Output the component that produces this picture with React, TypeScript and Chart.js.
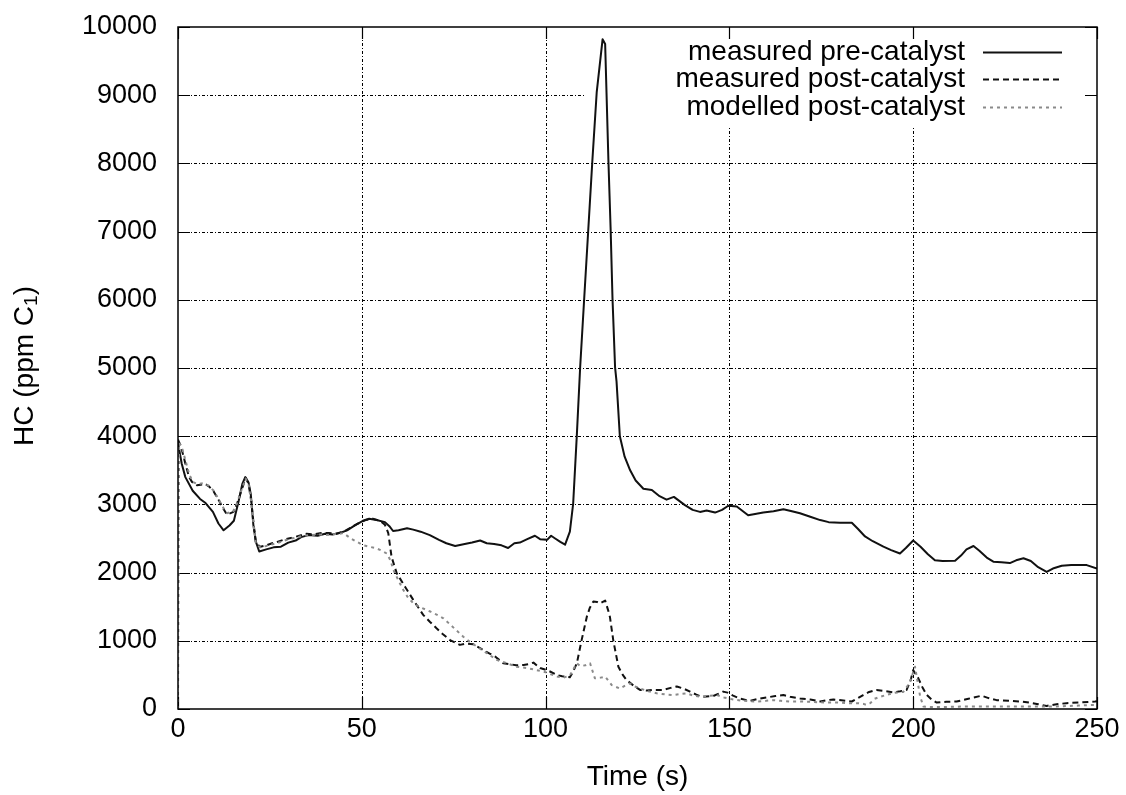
import React, { useEffect, useRef } from "react";
import { Chart, registerables } from "chart.js";

Chart.register(...registerables);

// Measured pre-catalyst HC (solid line)
const preTime = [
  0, 1, 2, 4, 6, 7.5, 9.5, 11, 12.4, 14, 15.2, 16.5, 17.5, 18.3, 19.2, 19.8, 20.5, 21.2, 22.1, 24,
  26, 28, 30, 32, 33.5, 35.5, 38, 40, 42, 44, 46, 48, 50.3, 52, 54, 56.3, 57.5, 58.5, 60, 62.3,
  64, 66, 68.5, 71, 73, 75.4, 78, 80, 82.2, 84, 86, 88, 89.8, 91.5, 93, 95, 97.1, 98.5, 100.4, 101.5,
  102.6, 104, 105.3, 106.6, 107.5, 108.5, 109.4, 110.5, 111.6, 112.7, 113.9, 115.5, 116.2, 117.1, 117.7, 118.2, 118.9, 119.3, 120.2, 121.5,
  123, 124.5, 126.6, 128.9, 131, 132.9, 134.9, 137.9, 140, 142, 143.8, 146.1, 148, 149.7, 152, 155.1, 157, 159.2, 162, 164.7,
  167, 169.2, 172, 174.7, 177, 180.1, 183.3, 185, 186.9, 189, 191.9, 194, 196.4, 198, 200, 202, 204, 205.9, 208, 211.4,
  213, 214.5, 216.4, 218, 220, 221.8, 224, 226.3, 228, 230, 232, 234, 236.3, 238, 240.4, 243, 247.2, 250,
];
const preHC = [
  3900, 3600, 3400, 3200, 3080, 3020, 2890, 2720, 2620, 2690, 2760, 3050, 3300, 3400, 3320, 3150, 2700, 2450, 2310, 2340,
  2370, 2380, 2440, 2470, 2520, 2550, 2540, 2570, 2560, 2580, 2620, 2690, 2760, 2790, 2770, 2740, 2680, 2610, 2620, 2650,
  2630, 2600, 2550, 2480, 2430, 2390, 2420, 2440, 2470, 2430, 2420, 2400, 2360, 2430, 2440, 2490, 2540, 2490, 2480, 2540,
  2500, 2450, 2410, 2600, 3010, 4020, 5010, 6020, 7020, 8020, 9040, 9820, 9750, 8020, 7020, 6020, 5010, 4800, 4000, 3700,
  3500, 3350, 3230, 3210, 3120, 3070, 3110, 2990, 2920, 2890, 2910, 2880, 2920, 2980, 2970, 2840, 2860, 2880, 2900, 2930,
  2900, 2870, 2820, 2770, 2740, 2730, 2730, 2640, 2530, 2460, 2380, 2330, 2280, 2360, 2470, 2380, 2270, 2180, 2170, 2175,
  2250, 2340, 2390, 2320, 2220, 2160, 2150, 2140, 2180, 2210, 2170, 2080, 2010, 2060, 2100, 2110, 2110, 2060,
];

// Measured post-catalyst HC (dashed line)
const postTime = [
  0, 0.8, 2, 3, 3.8, 5.2, 7.4, 8.5, 9.7, 11, 12, 13.3, 15.1, 16, 17, 18.4, 19.2, 19.9, 20.6, 21.2,
  22.4, 24, 25.6, 27, 29.2, 31, 33, 35, 37, 39, 41, 43, 45, 47, 49, 51, 53, 55, 56.3, 57.2,
  58.1, 59.5, 61.8, 64, 66.7, 68.5, 70.4, 72, 74, 76.7, 78.5, 80.3, 82.5, 84.9, 86.5, 88.5, 90, 92, 94, 95.5,
  96.7, 98.5, 100.3, 101.2, 103, 104.5, 106.6, 107.5, 108.5, 109.8, 111.2, 112, 113, 114, 114.8, 116.2, 117, 117.5, 118.4, 119.8,
  121, 122, 124, 125.7, 127.5, 129.3, 132, 134, 135.7, 137.5, 139.3, 141, 142.5, 145.6, 148.3, 149.5, 151, 153, 155.6, 158,
  160.2, 162.5, 164.7, 166.5, 169.2, 172, 174.7, 176.5, 178.3, 181, 183.3, 185, 186.4, 188, 190, 192, 194.6, 196.5, 198.2, 199.3,
  200, 201.4, 202.5, 203.7, 205, 206.4, 209, 211.8, 215, 218.6, 220.5, 222.7, 226, 229.1, 232, 234, 236.3, 239, 241.7, 245,
  249.5, 250,
];
const postHC = [
  3950, 3850, 3600, 3400, 3330, 3280, 3300, 3260, 3190, 3070, 2970, 2850, 2890, 3000, 3160, 3390, 3300, 3060, 2700, 2430,
  2380, 2400, 2430, 2450, 2490, 2510, 2540, 2570, 2560, 2580, 2580, 2570, 2600, 2660, 2720, 2770, 2790, 2760, 2700, 2580,
  2230, 1990, 1790, 1600, 1380, 1280, 1180, 1100, 1010, 940, 960, 950, 880, 810, 760, 670, 660, 640, 645, 660,
  680, 600, 570, 550, 500, 480, 465, 550, 670, 1010, 1350, 1480, 1575, 1570, 1550, 1590, 1450, 1350, 1010, 620,
  500, 425, 340, 280, 270, 280, 280, 310, 330, 300, 255, 210, 180, 190, 255, 240, 195, 150, 120, 150,
  170, 190, 205, 180, 155, 140, 110, 130, 140, 125, 110, 160, 205, 250, 280, 265, 245, 260, 280, 420,
  570, 450, 320, 205, 140, 95, 105, 110, 150, 195, 160, 130, 120, 110, 90, 70, 45, 70, 85, 95,
  110, 115,
];

// Modelled post-catalyst HC (dotted line)
const modelTime = [
  0, 0.3, 1, 2, 3, 4, 5.2, 7, 8.5, 9.7, 11, 12, 13.3, 15, 16, 17, 18.4, 19.2, 19.9, 20.6,
  21.2, 22.4, 24, 26, 28, 30, 32, 34, 36, 38, 40, 42, 44, 45, 47, 50.4, 52, 54, 55.5, 56.8,
  57.8, 58.6, 60, 61.3, 62.5, 64, 66, 68.6, 70.5, 72.2, 74, 75.8, 77.6, 79.5, 81.3, 84, 86.7, 89, 92.1, 95,
  97.6, 100, 103, 104.8, 106.6, 107.5, 108.5, 109.4, 110.8, 112.1, 113.4, 115, 116.2, 117, 118, 120.2, 121.5, 122.9, 124.3, 125.7,
  128, 130.2, 132.5, 134.7, 136.5, 138.4, 140, 142, 144, 146.5, 148.5, 151, 153, 155, 157.4, 160, 161.9, 164, 166.5, 169,
  172, 176, 179, 182.8, 185, 186.5, 187.3, 188.3, 189.5, 191, 193, 195, 197.3, 199, 200.5, 201.2, 201.9, 202.8, 205, 209.1,
  213, 218.2, 222, 227.2, 232, 236.3, 240, 245, 249, 250,
];
const modelHC = [
  0, 3900, 3850, 3650, 3450, 3330, 3300, 3310, 3270, 3200, 3080, 2980, 2870, 2900, 3010, 3170, 3380, 3290, 3050, 2680,
  2420, 2370, 2390, 2420, 2450, 2490, 2510, 2540, 2550, 2560, 2550, 2560, 2570, 2580, 2500, 2400, 2380, 2355, 2320, 2280,
  2180, 2040, 1880, 1745, 1640, 1550, 1490, 1430, 1380, 1330, 1240, 1150, 1060, 980, 915, 820, 720, 680, 620, 600,
  570, 540, 475, 460, 490, 580, 670, 630, 640, 670, 450, 460, 475, 420, 350, 300, 340, 375, 330, 300,
  260, 230, 215, 205, 220, 230, 200, 180, 190, 205, 170, 140, 125, 115, 110, 120, 130, 120, 110, 110,
  105, 95, 95, 85, 85, 75, 60, 85, 150, 180, 210, 240, 250, 380, 620, 400, 180, 35, 30, 30,
  35, 35, 35, 35, 35, 35, 40, 50, 60, 60,
];

const xTickValues = [0, 50, 100, 150, 200, 250];
const yTickValues = [0, 1000, 2000, 3000, 4000, 5000, 6000, 7000, 8000, 9000, 10000];
const seriesNames = ["measured pre-catalyst", "measured post-catalyst", "modelled post-catalyst"];
const xTitle = "Time (s)";
const yTitleMain = "HC (ppm C";
const yTitleSub = "1";

const FONT = "'Liberation Sans', Arial, Helvetica, sans-serif";
const LINE_STYLES = [
  { color: "#111111", dash: [] as number[], width: 2 },
  { color: "#111111", dash: [6, 4], width: 2 },
  { color: "#8a8a8a", dash: [3, 4], width: 2 },
];

const pairs = (xs: number[], ys: number[]) => xs.map((x, i) => ({ x, y: ys[i] }));

// Grid, inward tick marks, frame, key and axis titles in gnuplot style
const decorPlugin = {
  id: "decor",
  beforeDatasetsDraw(chart: any) {
    const { ctx, chartArea: a, scales } = chart;
    const xs = scales.x;
    const ys = scales.y;
    ctx.save();
    ctx.strokeStyle = "#000";
    ctx.lineWidth = 1;
    ctx.setLineDash([3, 2, 1, 2]);
    xTickValues.forEach((v) => {
      const px = Math.round(xs.getPixelForValue(v)) + 0.5;
      if (px <= a.left + 1 || px >= a.right - 1) return;
      ctx.beginPath();
      ctx.moveTo(px, a.top);
      ctx.lineTo(px, a.bottom);
      ctx.stroke();
    });
    yTickValues.forEach((v) => {
      const py = Math.round(ys.getPixelForValue(v)) + 0.5;
      if (py <= a.top + 1 || py >= a.bottom - 1) return;
      ctx.beginPath();
      ctx.moveTo(a.left, py);
      ctx.lineTo(a.right, py);
      ctx.stroke();
    });
    ctx.setLineDash([]);
    // key area is kept clear of grid lines
    ctx.fillStyle = "#fff";
    ctx.fillRect(585, a.top + 1, a.right - 585 - 1, 98);
    // inward ticks on all four sides
    ctx.lineWidth = 1.2;
    const tl = 12;
    xTickValues.forEach((v) => {
      const px = Math.round(xs.getPixelForValue(v)) + 0.5;
      ctx.beginPath();
      ctx.moveTo(px, a.bottom);
      ctx.lineTo(px, a.bottom - tl);
      ctx.moveTo(px, a.top);
      ctx.lineTo(px, a.top + tl);
      ctx.stroke();
    });
    yTickValues.forEach((v) => {
      const py = Math.round(ys.getPixelForValue(v)) + 0.5;
      ctx.beginPath();
      ctx.moveTo(a.left, py);
      ctx.lineTo(a.left + tl, py);
      ctx.moveTo(a.right, py);
      ctx.lineTo(a.right - tl, py);
      ctx.stroke();
    });
    ctx.restore();
  },
  afterDatasetsDraw(chart: any) {
    const { ctx, chartArea: a } = chart;
    ctx.save();
    ctx.strokeStyle = "#000";
    ctx.lineWidth = 1.5;
    ctx.strokeRect(a.left, a.top, a.right - a.left, a.bottom - a.top);

    // key
    ctx.font = `28px ${FONT}`;
    ctx.fillStyle = "#000";
    ctx.textAlign = "right";
    ctx.textBaseline = "middle";
    const rowY = [52, 79, 107];
    seriesNames.forEach((name, i) => {
      ctx.fillText(name, 965, rowY[i]);
      const st = LINE_STYLES[i];
      ctx.strokeStyle = st.color;
      ctx.lineWidth = st.width;
      ctx.setLineDash(st.dash);
      ctx.beginPath();
      ctx.moveTo(983, rowY[i] + 0.5);
      ctx.lineTo(1062, rowY[i] + 0.5);
      ctx.stroke();
    });
    ctx.setLineDash([]);

    // axis titles
    ctx.fillStyle = "#000";
    ctx.textAlign = "center";
    ctx.textBaseline = "middle";
    ctx.font = `28px ${FONT}`;
    ctx.fillText(xTitle, (a.left + a.right) / 2, 777);

    ctx.translate(25, 366);
    ctx.rotate(-Math.PI / 2);
    ctx.font = `28px ${FONT}`;
    const mainW = ctx.measureText(yTitleMain).width;
    ctx.font = `19px ${FONT}`;
    const subW = ctx.measureText(yTitleSub).width;
    ctx.font = `28px ${FONT}`;
    const closeW = ctx.measureText(")").width;
    const total = mainW + subW + closeW;
    let x0 = -total / 2;
    ctx.textAlign = "left";
    ctx.fillText(yTitleMain, x0, 0);
    x0 += mainW;
    ctx.font = `19px ${FONT}`;
    ctx.fillText(yTitleSub, x0, 7);
    x0 += subW;
    ctx.font = `28px ${FONT}`;
    ctx.fillText(")", x0, 0);
    ctx.restore();
  },
};

export default function App() {
  const canvasRef = useRef<HTMLCanvasElement | null>(null);

  useEffect(() => {
    const canvas = canvasRef.current;
    if (!canvas) return;
    const series = [pairs(preTime, preHC), pairs(postTime, postHC), pairs(modelTime, modelHC)];
    const chart = new Chart(canvas, {
      type: "line",
      data: {
        datasets: series.map((data, i) => ({
          label: seriesNames[i],
          data,
          borderColor: LINE_STYLES[i].color,
          borderWidth: LINE_STYLES[i].width,
          borderDash: LINE_STYLES[i].dash,
          pointRadius: 0,
          tension: 0,
          fill: false,
          borderJoinStyle: "round" as const,
          order: 2 - i,
        })),
      },
      options: {
        animation: false,
        responsive: false,
        devicePixelRatio: 1,
        layout: { padding: { left: 0, top: 27, right: 29, bottom: 0 } },
        plugins: {
          legend: { display: false },
          tooltip: { enabled: false },
        },
        scales: {
          x: {
            type: "linear",
            min: 0,
            max: 250,
            afterBuildTicks: (s: any) => {
              s.ticks = xTickValues.map((value) => ({ value }));
            },
            afterFit: (s: any) => {
              s.height = 86;
              s.paddingLeft = 0;
              s.paddingRight = 0;
            },
            grid: { display: false, drawTicks: false },
            border: { display: false },
            ticks: {
              color: "#000",
              padding: 4,
              maxRotation: 0,
              font: { family: FONT, size: 27 },
              callback: (v: any) => String(v),
            },
          },
          y: {
            type: "linear",
            min: 0,
            max: 10000,
            afterBuildTicks: (s: any) => {
              s.ticks = yTickValues.map((value) => ({ value }));
            },
            afterFit: (s: any) => {
              s.width = 178;
              s.paddingTop = 0;
              s.paddingBottom = 0;
            },
            grid: { display: false, drawTicks: false },
            border: { display: false },
            ticks: {
              color: "#000",
              padding: 21,
              font: { family: FONT, size: 27 },
              callback: (v: any) => String(v),
            },
          },
        },
      },
      plugins: [decorPlugin],
    });
    return () => chart.destroy();
  }, []);

  return (
    <div style={{ position: "absolute", left: 0, top: 0, width: 1126, height: 795, background: "#fff" }}>
      <canvas ref={canvasRef} width={1126} height={795} style={{ display: "block" }} />
    </div>
  );
}
